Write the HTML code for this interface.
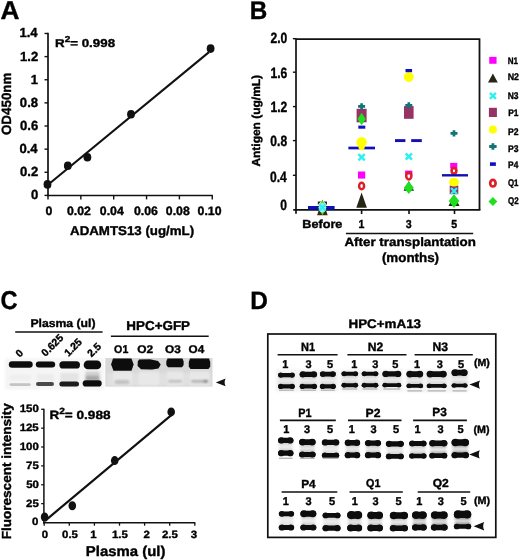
<!DOCTYPE html>
<html><head><meta charset="utf-8"><title>Figure</title><style>
html,body{margin:0;padding:0;background:#fff;width:520px;height:560px;overflow:hidden}
svg{display:block;will-change:transform;filter:blur(0.35px)}
text{font-family:"Liberation Sans",sans-serif;font-weight:bold;stroke:#000;stroke-width:0.38px;stroke-linejoin:round;text-rendering:geometricPrecision}
</style></head><body>
<svg width="520" height="560" viewBox="0 0 520 560">
<defs>
<filter id="bl" x="-20%" y="-50%" width="140%" height="200%"><feGaussianBlur stdDeviation="0.75"/></filter>
<filter id="bl2" x="-10%" y="-20%" width="120%" height="140%"><feGaussianBlur stdDeviation="1"/></filter>
<filter id="bl3" x="-10%" y="-30%" width="120%" height="160%"><feGaussianBlur stdDeviation="1.3 1.0"/></filter>
</defs>
<text transform="translate(0.61 19.31) scale(1.0128 1)" font-size="25.956" fill="#000">A</text>
<text transform="translate(249.75 19.05) scale(0.9485 1)" font-size="25.580" fill="#000">B</text>
<text transform="translate(0.46 308.59) scale(0.9162 1)" font-size="25.775" fill="#000">C</text>
<text transform="translate(250.34 308.85) scale(0.9686 1)" font-size="25.217" fill="#000">D</text>
<line x1="48.00" y1="32.79" x2="48.00" y2="196.20" stroke="#111" stroke-width="1.7"/>
<line x1="47.20" y1="195.50" x2="212.90" y2="195.50" stroke="#111" stroke-width="1.7"/>
<text transform="translate(19.47 37.45) scale(0.9920 1)" font-size="13.188" fill="#000">1.4</text>
<line x1="44.50" y1="195.40" x2="48.00" y2="195.40" stroke="#111" stroke-width="1.4"/>
<text transform="translate(30.98 199.25) scale(0.9920 1)" font-size="13.188" fill="#000">0</text>
<line x1="44.50" y1="172.27" x2="48.00" y2="172.27" stroke="#111" stroke-width="1.4"/>
<text transform="translate(19.99 176.12) scale(0.9920 1)" font-size="13.188" fill="#000">0.2</text>
<line x1="44.50" y1="149.14" x2="48.00" y2="149.14" stroke="#111" stroke-width="1.4"/>
<text transform="translate(19.47 152.99) scale(0.9920 1)" font-size="13.188" fill="#000">0.4</text>
<line x1="44.50" y1="126.01" x2="48.00" y2="126.01" stroke="#111" stroke-width="1.4"/>
<text transform="translate(19.99 129.86) scale(0.9920 1)" font-size="13.188" fill="#000">0.6</text>
<line x1="44.50" y1="102.88" x2="48.00" y2="102.88" stroke="#111" stroke-width="1.4"/>
<text transform="translate(19.86 106.73) scale(0.9920 1)" font-size="13.188" fill="#000">0.8</text>
<line x1="44.50" y1="79.75" x2="48.00" y2="79.75" stroke="#111" stroke-width="1.4"/>
<text transform="translate(30.72 83.60) scale(0.9920 1)" font-size="13.188" fill="#000">1</text>
<line x1="44.50" y1="56.62" x2="48.00" y2="56.62" stroke="#111" stroke-width="1.4"/>
<text transform="translate(19.99 60.54) scale(0.9920 1)" font-size="13.188" fill="#000">1.2</text>
<line x1="44.50" y1="33.49" x2="48.00" y2="33.49" stroke="#111" stroke-width="1.4"/>
<line x1="48.00" y1="195.50" x2="48.00" y2="199.40" stroke="#111" stroke-width="1.4"/>
<line x1="80.85" y1="195.50" x2="80.85" y2="199.40" stroke="#111" stroke-width="1.4"/>
<line x1="113.70" y1="195.50" x2="113.70" y2="199.40" stroke="#111" stroke-width="1.4"/>
<line x1="146.55" y1="195.50" x2="146.55" y2="199.40" stroke="#111" stroke-width="1.4"/>
<line x1="179.40" y1="195.50" x2="179.40" y2="199.40" stroke="#111" stroke-width="1.4"/>
<line x1="212.25" y1="195.50" x2="212.25" y2="199.40" stroke="#111" stroke-width="1.4"/>
<text transform="translate(133.96 215.43) scale(1.0154 1)" font-size="12.113" fill="#000">0.06</text>
<text transform="translate(45.42 215.43) scale(1.0154 1)" font-size="12.113" fill="#000">0</text>
<text transform="translate(66.91 215.43) scale(1.0154 1)" font-size="12.113" fill="#000">0.02</text>
<text transform="translate(99.82 215.43) scale(1.0154 1)" font-size="12.113" fill="#000">0.04</text>
<text transform="translate(165.85 215.43) scale(1.0154 1)" font-size="12.113" fill="#000">0.08</text>
<text transform="translate(197.57 215.43) scale(1.0154 1)" font-size="12.113" fill="#000">0.10</text>
<text transform="translate(70.05 234.57) scale(1.0425 1)" font-size="12.766" fill="#000">ADAMTS13 (ug/mL)</text>
<text transform="translate(11.32 135.09) rotate(-90) scale(1.0009 1)" font-size="13.380" fill="#000">OD450nm</text>
<text transform="translate(55.02 46.6) scale(1.17 1)" font-size="11.4" fill="#000">R<tspan font-size="75%" dy="-0.56em">2</tspan><tspan dy="0.42em">= 0.998</tspan></text>
<line x1="48.00" y1="184.80" x2="209.00" y2="52.10" stroke="#111" stroke-width="2.1"/>
<ellipse cx="47.5" cy="184.4" rx="3.9" ry="4.3" fill="#111"/>
<ellipse cx="67.8" cy="165.8" rx="3.9" ry="4.3" fill="#111"/>
<ellipse cx="87.4" cy="157.2" rx="3.9" ry="4.3" fill="#111"/>
<ellipse cx="131.0" cy="114.3" rx="3.9" ry="4.3" fill="#111"/>
<ellipse cx="210.6" cy="48.6" rx="3.9" ry="4.3" fill="#111"/>
<path d="M296.0,39.1H479.5V209.9" fill="none" stroke="#111" stroke-width="1.8"/>
<line x1="296.00" y1="38.20" x2="296.00" y2="213.80" stroke="#111" stroke-width="1.7"/>
<line x1="293.20" y1="209.90" x2="480.40" y2="209.90" stroke="#111" stroke-width="1.7"/>
<line x1="292.90" y1="175.30" x2="296.00" y2="175.30" stroke="#111" stroke-width="1.4"/>
<line x1="292.90" y1="140.60" x2="296.00" y2="140.60" stroke="#111" stroke-width="1.4"/>
<line x1="292.90" y1="106.60" x2="296.00" y2="106.60" stroke="#111" stroke-width="1.4"/>
<line x1="292.90" y1="72.20" x2="296.00" y2="72.20" stroke="#111" stroke-width="1.4"/>
<line x1="292.90" y1="38.70" x2="296.00" y2="38.70" stroke="#111" stroke-width="1.4"/>
<text transform="translate(270.42 78.30) scale(0.8100 1)" font-size="14.930" fill="#000">1.6</text>
<text transform="translate(280.18 210.15) scale(0.8100 1)" font-size="14.930" fill="#000">0</text>
<text transform="translate(269.94 181.75) scale(0.8100 1)" font-size="14.930" fill="#000">0.4</text>
<text transform="translate(270.30 146.15) scale(0.8100 1)" font-size="14.930" fill="#000">0.8</text>
<text transform="translate(270.42 112.33) scale(0.8100 1)" font-size="14.930" fill="#000">1.2</text>
<text transform="translate(270.42 43.05) scale(0.8100 1)" font-size="14.930" fill="#000">2.0</text>
<line x1="361.60" y1="209.90" x2="361.60" y2="214.00" stroke="#111" stroke-width="1.6"/>
<line x1="409.00" y1="209.90" x2="409.00" y2="214.00" stroke="#111" stroke-width="1.6"/>
<line x1="454.50" y1="209.90" x2="454.50" y2="214.00" stroke="#111" stroke-width="1.6"/>
<text transform="translate(302.36 227.63) scale(1.0757 1)" font-size="11.757" fill="#000">Before</text>
<text transform="translate(405.84 227.53) scale(0.9178 1)" font-size="11.549" fill="#000">3</text>
<text transform="translate(358.47 227.58) scale(0.9178 1)" font-size="11.549" fill="#000">1</text>
<text transform="translate(451.33 227.53) scale(0.9178 1)" font-size="11.549" fill="#000">5</text>
<line x1="345.90" y1="233.50" x2="473.20" y2="233.50" stroke="#111" stroke-width="1.4"/>
<text transform="translate(344.45 246.40) scale(1.1031 1)" font-size="12.128" fill="#000">After transplantation</text>
<text transform="translate(381.88 261.98) scale(1.0138 1)" font-size="13.191" fill="#000">(months)</text>
<text transform="translate(260.21 166.61) rotate(-90) scale(1.0328 1)" font-size="11.596" fill="#000">Antigen (ug/mL)</text>
<text transform="translate(507.69 63.61) scale(0.8386 1)" font-size="9.600" fill="#000">N1</text>
<text transform="translate(507.63 80.36) scale(0.9259 1)" font-size="9.600" fill="#000">N2</text>
<text transform="translate(507.76 98.64) scale(0.8814 1)" font-size="9.600" fill="#000">N3</text>
<text transform="translate(508.16 116.14) scale(0.8757 1)" font-size="9.600" fill="#000">P1</text>
<text transform="translate(508.04 134.76) scale(0.9009 1)" font-size="9.600" fill="#000">P2</text>
<text transform="translate(508.05 151.66) scale(0.8929 1)" font-size="9.600" fill="#000">P3</text>
<text transform="translate(508.07 167.76) scale(0.8696 1)" font-size="9.600" fill="#000">P4</text>
<text transform="translate(507.94 186.36) scale(0.8202 1)" font-size="9.600" fill="#000">Q1</text>
<text transform="translate(507.93 204.06) scale(0.8333 1)" font-size="9.600" fill="#000">Q2</text>
<rect x="489.25" y="56.85" width="7.30" height="6.90" fill="#ff00ff"/>
<polygon points="492.90,73.60 497.80,82.40 488.00,82.40" fill="#262616"/>
<path d="M489.90,92.90L495.90,98.90M495.90,92.90L489.90,98.90" stroke="#2ff0f0" stroke-width="2.40"/>
<rect x="488.90" y="107.80" width="8.00" height="9.20" fill="#963264"/>
<ellipse cx="492.90" cy="129.60" rx="4.00" ry="4.10" fill="#ffff00"/>
<path d="M489.20,146.50H496.60M492.90,143.20V149.80" stroke="#127474" stroke-width="2.80"/>
<rect x="489.95" y="162.30" width="5.90" height="3.60" fill="#1010c0"/>
<ellipse cx="492.90" cy="183.20" rx="2.70" ry="3.30" fill="none" stroke="#dd1f2a" stroke-width="2.70"/>
<polygon points="492.90,197.10 497.30,201.60 492.90,206.10 488.50,201.60" fill="#1ee01e"/>
<rect x="308.00" y="206.00" width="26.60" height="3.6" fill="#1010b4"/>
<polygon points="322.40,199.50 327.70,215.30 317.10,215.30" fill="#3a2a12"/>
<polygon points="317.80,201.40 321.00,201.40 317.80,205.00" fill="#3a2a12"/>
<polygon points="327.00,201.40 323.80,201.40 327.00,205.00" fill="#3a2a12"/>
<polygon points="322.40,200.00 326.60,207.60 322.40,215.20 318.20,207.60" fill="#5fd82a"/>
<ellipse cx="322.4" cy="207.8" rx="3.6" ry="4.8" fill="#9eeee8"/>
<path d="M319.25,204.25L325.55,210.55M325.55,204.25L319.25,210.55" stroke="#2ff0f0" stroke-width="2.52"/>
<polygon points="361.60,192.50 366.90,207.70 356.30,207.70" fill="#262616"/>
<ellipse cx="361.6" cy="186.0" rx="2.5" ry="3.25" fill="none" stroke="#dd1f2a" stroke-width="2.5"/>
<rect x="358.0" y="171.5" width="7.2" height="7.1" fill="#ff00ff"/>
<path d="M358.45,154.05L364.75,160.35M364.75,154.05L358.45,160.35" stroke="#2ff0f0" stroke-width="2.52"/>
<rect x="348.40" y="146.65" width="26.60" height="2.7" fill="#1010b4"/>
<circle cx="361.6" cy="142.3" r="5.2" fill="#ffff00"/>
<ellipse cx="361.6" cy="146.8" rx="3.2" ry="3.4" fill="#ffff00"/>
<rect x="356.60" y="108.8" width="10" height="13.5" fill="#963264"/>
<polygon points="361.60,112.80 365.70,119.00 361.60,125.20 357.50,119.00" fill="#1ee01e"/>
<rect x="358.3" y="125.6" width="7.0" height="3.1" fill="#1010c0"/>
<path d="M358.09,106.30H365.12M361.60,103.16V109.44" stroke="#127474" stroke-width="2.66"/>
<polygon points="408.80,181.00 414.00,190.80 403.60,190.80" fill="#262616"/>
<polygon points="408.80,181.60 413.80,187.80 408.80,194.00 403.80,187.80" fill="#1ee01e"/>
<rect x="405.1" y="170.6" width="7.3" height="4" fill="#ff00ff"/>
<ellipse cx="408.8" cy="175.8" rx="2.6" ry="3.6" fill="none" stroke="#dd1f2a" stroke-width="2.5"/>
<path d="M405.65,153.35L411.95,159.65M411.95,153.35L405.65,159.65" stroke="#2ff0f0" stroke-width="2.52"/>
<rect x="395.00" y="139.15" width="10.40" height="2.9" fill="#1010b4"/>
<rect x="411.20" y="139.15" width="10.60" height="2.9" fill="#1010b4"/>
<rect x="404.00" y="106.1" width="9.6" height="12.7" fill="#963264"/>
<path d="M405.29,105.40H412.31M408.80,102.27V108.54" stroke="#127474" stroke-width="2.66"/>
<circle cx="408.8" cy="77.0" r="4.9" fill="#ffff00"/>
<rect x="405.5" y="69.0" width="6.6" height="3.2" fill="#1010c0"/>
<polygon points="454.00,195.00 459.50,205.90 448.50,205.90" fill="#262616"/>
<rect x="449.7" y="185.5" width="8.6" height="8.7" fill="#963264"/>
<path d="M451.00,188.00L457.00,194.00M457.00,188.00L451.00,194.00" stroke="#2ff0f0" stroke-width="2.40"/>
<polygon points="454.00,194.20 459.30,201.10 454.00,208.00 448.70,201.10" fill="#1ee01e"/>
<rect x="450.2" y="162.9" width="7.1" height="5.5" fill="#ff00ff"/>
<ellipse cx="454.0" cy="170.8" rx="2.4" ry="2.8" fill="none" stroke="#dd1f2a" stroke-width="2.6"/>
<rect x="442.00" y="174.10" width="26.00" height="2.4" fill="#1010b4"/>
<ellipse cx="454.0" cy="182.2" rx="5.0" ry="4.4" fill="#ffff00"/>
<path d="M450.49,133.40H457.51M454.00,130.27V136.53" stroke="#127474" stroke-width="2.66"/>
<text transform="translate(30.40 326.76) scale(1.0720 1)" font-size="11.383" fill="#000">Plasma (ul)</text>
<line x1="15.20" y1="332.00" x2="102.60" y2="332.00" stroke="#111" stroke-width="1.4"/>
<text transform="translate(126.31 330.22) scale(1.0487 1)" font-size="12.817" fill="#000">HPC+GFP</text>
<line x1="110.90" y1="336.20" x2="208.70" y2="336.20" stroke="#111" stroke-width="1.4"/>
<text transform="translate(114.12 353.14) scale(0.9434 1)" font-size="11.268" fill="#000">O1</text>
<text transform="translate(137.17 353.14) scale(1.0579 1)" font-size="11.268" fill="#000">O2</text>
<text transform="translate(165.08 352.64) scale(1.0495 1)" font-size="11.268" fill="#000">O3</text>
<text transform="translate(188.58 352.64) scale(1.0389 1)" font-size="11.268" fill="#000">O4</text>
<text x="19.35" y="356.65000000000003" font-size="10.4" text-anchor="middle" transform="rotate(-45 19.35 353.05)" fill="#000">0</text>
<text x="52.25" y="348.75" font-size="10.4" text-anchor="middle" transform="rotate(-45 52.25 345.15)" fill="#000">0.625</text>
<text x="73.0" y="350.85" font-size="10.4" text-anchor="middle" transform="rotate(-45 73.0 347.25)" fill="#000">1.25</text>
<text x="94.2" y="353.45000000000005" font-size="10.4" text-anchor="middle" transform="rotate(-45 94.2 349.85)" fill="#000">2.5</text>
<rect x="5" y="358.5" width="99" height="31" fill="#f5f5f5" filter="url(#bl2)"/>
<g filter="url(#bl3)">
<rect x="10" y="374.5" width="21" height="6" fill="#efefef"/>
<rect x="37" y="374" width="17" height="7" fill="#ececec"/>
<rect x="60.5" y="373" width="18" height="8.5" fill="#e4e4e4"/>
<rect x="85.5" y="371.5" width="14" height="4" fill="#d0d0d0"/>
<rect x="85.5" y="375.5" width="14" height="5.5" fill="#a8a8a8"/>
</g>
<g filter="url(#bl)">
<rect x="8.8" y="361.3" width="23.9" height="6.5" rx="3.25" fill="#0b0b0b"/>
<rect x="35.8" y="361.5" width="19.4" height="6.1" rx="3.05" fill="#0b0b0b"/>
<rect x="59.4" y="361.3" width="20.6" height="7.3" rx="3.65" fill="#0b0b0b"/>
<rect x="83.7" y="360.6" width="17.5" height="8.6" rx="4.30" fill="#0b0b0b"/>
<rect x="9.5" y="383.2" width="21.2" height="2.8" rx="1.40" fill="#c4c4c4"/>
<rect x="36.0" y="381.9" width="18.0" height="4.1" rx="2.05" fill="#4a4a4a"/>
<rect x="59.4" y="381.4" width="19.6" height="5.0" rx="2.50" fill="#1c1c1c"/>
<rect x="82.7" y="380.3" width="19.0" height="6.2" rx="3.10" fill="#0b0b0b"/>
</g>
<rect x="105.3" y="358" width="107.2" height="28.6" fill="#d8d8d8"/>
<g filter="url(#bl3)">
<rect x="107" y="373" width="104" height="12.5" fill="#e0e0e0"/>
<rect x="113" y="371.5" width="19" height="14" fill="#e8e8e8"/>
<rect x="139" y="371.5" width="20" height="14" fill="#e8e8e8"/>
<rect x="167" y="371.5" width="16" height="14" fill="#e8e8e8"/>
<rect x="190" y="371.5" width="19" height="14" fill="#e8e8e8"/>
</g>
<g filter="url(#bl)">
<polygon points="113,358.6 131.5,358.6 133.6,364.6 131.5,370.7 113.5,370.7 111.1,364.6" fill="#0b0b0b"/>
<polygon points="139,359.5 150,359.2 158,361 160.7,364.5 158.5,368.5 152,369.6 141,369.2 137.6,366 137.8,361.5" fill="#0b0b0b"/>
<polygon points="167.5,358.6 182.5,358.6 183.6,361.5 183.6,365 182,367.3 168,367.3 166.3,365 166.3,361.5" fill="#0b0b0b"/>
<polygon points="190,358.6 209,358.6 210.2,362 210.2,366.5 208.5,369 190.5,369 188.8,366.5 188.8,362" fill="#0b0b0b"/>
</g>
<g filter="url(#bl3)">
<rect x="114.5" y="380" width="15" height="4.2" rx="2" fill="#c2c2c2"/>
<rect x="168" y="380" width="14" height="2.6" rx="1.3" fill="#bcbcbc"/>
<rect x="191" y="380" width="17.4" height="2.8" rx="1.4" fill="#b4b4b4"/>
<ellipse cx="205.6" cy="381.3" rx="2" ry="1.3" fill="#777"/>
</g>
<path d="M215.80,382.40 L225.60,378.55 Q223.64,382.40 225.60,386.25Z" fill="#111"/>
<line x1="43.90" y1="408.68" x2="43.90" y2="523.40" stroke="#111" stroke-width="1.5"/>
<line x1="43.20" y1="522.70" x2="195.30" y2="522.70" stroke="#111" stroke-width="1.5"/>
<line x1="41.20" y1="503.63" x2="43.90" y2="503.63" stroke="#111" stroke-width="1.3"/>
<line x1="41.20" y1="484.76" x2="43.90" y2="484.76" stroke="#111" stroke-width="1.3"/>
<line x1="41.20" y1="465.89" x2="43.90" y2="465.89" stroke="#111" stroke-width="1.3"/>
<line x1="41.20" y1="447.02" x2="43.90" y2="447.02" stroke="#111" stroke-width="1.3"/>
<line x1="41.20" y1="428.15" x2="43.90" y2="428.15" stroke="#111" stroke-width="1.3"/>
<line x1="41.20" y1="409.28" x2="43.90" y2="409.28" stroke="#111" stroke-width="1.3"/>
<text transform="translate(19.76 449.72) scale(1.0767 1)" font-size="10.648" fill="#000">100</text>
<text transform="translate(31.90 525.37) scale(1.0767 1)" font-size="10.648" fill="#000">0</text>
<text transform="translate(26.07 506.50) scale(1.0767 1)" font-size="10.648" fill="#000">25</text>
<text transform="translate(26.18 487.63) scale(1.0767 1)" font-size="10.648" fill="#000">50</text>
<text transform="translate(26.07 468.71) scale(1.0767 1)" font-size="10.648" fill="#000">75</text>
<text transform="translate(19.65 431.02) scale(1.0767 1)" font-size="10.648" fill="#000">125</text>
<text transform="translate(19.76 412.15) scale(1.0767 1)" font-size="10.648" fill="#000">150</text>
<line x1="44.20" y1="522.70" x2="44.20" y2="525.70" stroke="#111" stroke-width="1.3"/>
<line x1="69.30" y1="522.70" x2="69.30" y2="525.70" stroke="#111" stroke-width="1.3"/>
<line x1="94.40" y1="522.70" x2="94.40" y2="525.70" stroke="#111" stroke-width="1.3"/>
<line x1="119.50" y1="522.70" x2="119.50" y2="525.70" stroke="#111" stroke-width="1.3"/>
<line x1="144.60" y1="522.70" x2="144.60" y2="525.70" stroke="#111" stroke-width="1.3"/>
<line x1="169.70" y1="522.70" x2="169.70" y2="525.70" stroke="#111" stroke-width="1.3"/>
<line x1="194.80" y1="522.70" x2="194.80" y2="525.70" stroke="#111" stroke-width="1.3"/>
<text transform="translate(162.01 538.17) scale(1.0733 1)" font-size="10.648" fill="#000">2.5</text>
<text transform="translate(41.86 538.17) scale(1.0733 1)" font-size="10.648" fill="#000">0</text>
<text transform="translate(62.10 538.17) scale(1.0733 1)" font-size="10.648" fill="#000">0.5</text>
<text transform="translate(90.23 538.17) scale(1.0733 1)" font-size="10.648" fill="#000">1</text>
<text transform="translate(111.99 538.12) scale(1.0733 1)" font-size="10.648" fill="#000">1.5</text>
<text transform="translate(143.46 538.23) scale(1.0733 1)" font-size="10.648" fill="#000">2</text>
<text transform="translate(190.71 538.17) scale(1.0733 1)" font-size="10.648" fill="#000">3</text>
<text transform="translate(85.80 555.52) scale(1.0521 1)" font-size="14.202" fill="#000">Plasma (ul)</text>
<text transform="translate(10.90 539.30) rotate(-90) scale(1.0328 1)" font-size="13.117" fill="#000">Fluorescent intensity</text>
<text transform="translate(49.40 419.1) scale(1.14 1)" font-size="11.9" fill="#000">R<tspan font-size="75%" dy="-0.56em">2</tspan><tspan dy="0.42em">= 0.988</tspan></text>
<line x1="45.00" y1="520.80" x2="171.30" y2="415.20" stroke="#111" stroke-width="2.2"/>
<ellipse cx="44.6" cy="517.0" rx="3.8" ry="4.5" fill="#111"/>
<ellipse cx="72.3" cy="505.8" rx="3.8" ry="4.5" fill="#111"/>
<ellipse cx="114.7" cy="460.6" rx="3.8" ry="4.5" fill="#111"/>
<ellipse cx="171.2" cy="411.9" rx="3.8" ry="4.5" fill="#111"/>
<text transform="translate(348.51 327.62) scale(1.0697 1)" font-size="12.535" fill="#000">HPC+mA13</text>
<rect x="267.8" y="334.0" width="228.0" height="203.4" fill="none" stroke="#111" stroke-width="1.7"/>
<text transform="translate(305.43 368.14) scale(0.9762 1)" font-size="11.268" fill="#000">3</text>
<text transform="translate(300.98 350.55) scale(0.9050 1)" font-size="12.174" fill="#000">N1</text>
<text transform="translate(367.80 350.75) scale(0.9995 1)" font-size="12.143" fill="#000">N2</text>
<text transform="translate(432.50 350.63) scale(0.9848 1)" font-size="12.324" fill="#000">N3</text>
<line x1="277.60" y1="354.80" x2="337.60" y2="354.80" stroke="#111" stroke-width="1.6"/>
<line x1="347.40" y1="354.80" x2="406.50" y2="354.80" stroke="#111" stroke-width="1.6"/>
<line x1="414.60" y1="354.80" x2="472.80" y2="354.80" stroke="#111" stroke-width="1.6"/>
<text transform="translate(282.36 368.14) scale(0.9762 1)" font-size="11.268" fill="#000">1</text>
<text transform="translate(327.02 368.08) scale(0.9762 1)" font-size="11.268" fill="#000">5</text>
<text transform="translate(351.36 368.14) scale(0.9762 1)" font-size="11.268" fill="#000">1</text>
<text transform="translate(372.13 368.14) scale(0.9762 1)" font-size="11.268" fill="#000">3</text>
<text transform="translate(392.32 368.08) scale(0.9762 1)" font-size="11.268" fill="#000">5</text>
<text transform="translate(413.95 368.14) scale(0.9762 1)" font-size="11.268" fill="#000">1</text>
<text transform="translate(436.73 368.14) scale(0.9762 1)" font-size="11.268" fill="#000">3</text>
<text transform="translate(458.12 368.08) scale(0.9762 1)" font-size="11.268" fill="#000">5</text>
<text transform="translate(473.92 365.98) scale(1.0314 1)" font-size="10.319" fill="#000">(M)</text>
<text transform="translate(298.29 416.55) scale(0.8941 1)" font-size="12.174" fill="#000">P1</text>
<text transform="translate(365.49 416.55) scale(1.0333 1)" font-size="11.857" fill="#000">P2</text>
<text transform="translate(432.22 416.43) scale(1.0037 1)" font-size="11.831" fill="#000">P3</text>
<line x1="279.90" y1="420.40" x2="335.80" y2="420.40" stroke="#111" stroke-width="1.6"/>
<line x1="348.00" y1="420.40" x2="401.50" y2="420.40" stroke="#111" stroke-width="1.6"/>
<line x1="413.10" y1="420.40" x2="466.90" y2="420.40" stroke="#111" stroke-width="1.6"/>
<text transform="translate(283.25 432.69) scale(0.9762 1)" font-size="11.268" fill="#000">1</text>
<text transform="translate(303.93 432.69) scale(0.9762 1)" font-size="11.268" fill="#000">3</text>
<text transform="translate(326.92 432.63) scale(0.9762 1)" font-size="11.268" fill="#000">5</text>
<text transform="translate(348.75 432.69) scale(0.9762 1)" font-size="11.268" fill="#000">1</text>
<text transform="translate(370.53 432.69) scale(0.9762 1)" font-size="11.268" fill="#000">3</text>
<text transform="translate(393.12 432.63) scale(0.9762 1)" font-size="11.268" fill="#000">5</text>
<text transform="translate(414.45 432.69) scale(0.9762 1)" font-size="11.268" fill="#000">1</text>
<text transform="translate(437.43 432.69) scale(0.9762 1)" font-size="11.268" fill="#000">3</text>
<text transform="translate(457.52 432.63) scale(0.9762 1)" font-size="11.268" fill="#000">5</text>
<text transform="translate(473.41 432.54) scale(1.0173 1)" font-size="10.532" fill="#000">(M)</text>
<text transform="translate(301.22 487.55) scale(1.0074 1)" font-size="11.739" fill="#000">P4</text>
<text transform="translate(366.12 487.44) scale(0.9456 1)" font-size="11.408" fill="#000">Q1</text>
<text transform="translate(432.67 487.43) scale(1.0333 1)" font-size="11.690" fill="#000">Q2</text>
<line x1="281.60" y1="492.00" x2="337.30" y2="492.00" stroke="#111" stroke-width="1.6"/>
<line x1="349.50" y1="492.00" x2="402.80" y2="492.00" stroke="#111" stroke-width="1.6"/>
<line x1="417.70" y1="492.00" x2="470.20" y2="492.00" stroke="#111" stroke-width="1.6"/>
<text transform="translate(282.86 504.69) scale(0.9762 1)" font-size="11.268" fill="#000">1</text>
<text transform="translate(305.53 504.69) scale(0.9762 1)" font-size="11.268" fill="#000">3</text>
<text transform="translate(329.12 504.63) scale(0.9762 1)" font-size="11.268" fill="#000">5</text>
<text transform="translate(351.65 504.69) scale(0.9762 1)" font-size="11.268" fill="#000">1</text>
<text transform="translate(372.43 504.69) scale(0.9762 1)" font-size="11.268" fill="#000">3</text>
<text transform="translate(395.42 504.63) scale(0.9762 1)" font-size="11.268" fill="#000">5</text>
<text transform="translate(416.36 504.69) scale(0.9762 1)" font-size="11.268" fill="#000">1</text>
<text transform="translate(437.83 504.69) scale(0.9762 1)" font-size="11.268" fill="#000">3</text>
<text transform="translate(460.42 504.63) scale(0.9762 1)" font-size="11.268" fill="#000">5</text>
<text transform="translate(473.91 504.14) scale(1.0241 1)" font-size="10.532" fill="#000">(M)</text>
<rect x="276" y="369.5" width="62.5" height="22.0" fill="#f2f2f2" filter="url(#bl2)"/>
<g filter="url(#bl3)">
<rect x="279.0" y="375.1" width="14.9" height="11.3" fill="#ececec"/>
<rect x="279.0" y="375.1" width="14.9" height="4.0" fill="#d8d8d8"/>
<rect x="279.0" y="382.2" width="14.9" height="4.2" fill="#d8d8d8"/>
<rect x="300.6" y="374.4" width="15.5" height="12.0" fill="#ececec"/>
<rect x="300.6" y="374.4" width="15.5" height="4.5" fill="#d4d4d4"/>
<rect x="300.6" y="382.2" width="15.5" height="4.2" fill="#d4d4d4"/>
<rect x="320.8" y="374.1" width="14.1" height="12.3" fill="#ececec"/>
<rect x="320.8" y="374.1" width="14.1" height="4.3" fill="#d8d8d8"/>
<rect x="320.8" y="382.2" width="14.1" height="4.2" fill="#d8d8d8"/>
</g>
<g filter="url(#bl)">
<rect x="278.0" y="373.05" width="16.9" height="4.10" rx="2.05" fill="#0b0b0b"/>
<ellipse cx="280.75" cy="375.10" rx="2.55" ry="2.55" fill="#0b0b0b"/>
<ellipse cx="292.15" cy="375.10" rx="2.55" ry="2.55" fill="#0b0b0b"/>
<rect x="278.0" y="384.35" width="16.9" height="4.10" rx="2.05" fill="#0b0b0b"/>
<ellipse cx="280.75" cy="386.40" rx="2.55" ry="2.55" fill="#0b0b0b"/>
<ellipse cx="292.15" cy="386.40" rx="2.55" ry="2.55" fill="#0b0b0b"/>
<rect x="279.0" y="389.50" width="14.9" height="1.4" fill="#b8b8b8"/>
<rect x="299.6" y="371.85" width="17.5" height="5.10" rx="2.55" fill="#0b0b0b"/>
<ellipse cx="302.85" cy="374.40" rx="3.05" ry="3.05" fill="#0b0b0b"/>
<ellipse cx="313.85" cy="374.40" rx="3.05" ry="3.05" fill="#0b0b0b"/>
<rect x="299.6" y="384.35" width="17.5" height="4.10" rx="2.05" fill="#0b0b0b"/>
<ellipse cx="302.35" cy="386.40" rx="2.55" ry="2.55" fill="#0b0b0b"/>
<ellipse cx="314.35" cy="386.40" rx="2.55" ry="2.55" fill="#0b0b0b"/>
<rect x="300.6" y="389.50" width="15.5" height="1.4" fill="#b8b8b8"/>
<rect x="319.8" y="371.75" width="16.1" height="4.70" rx="2.35" fill="#0b0b0b"/>
<ellipse cx="322.85" cy="374.10" rx="2.85" ry="2.85" fill="#0b0b0b"/>
<ellipse cx="332.85" cy="374.10" rx="2.85" ry="2.85" fill="#0b0b0b"/>
<rect x="319.8" y="384.35" width="16.1" height="4.10" rx="2.05" fill="#0b0b0b"/>
<ellipse cx="322.55" cy="386.40" rx="2.55" ry="2.55" fill="#0b0b0b"/>
<ellipse cx="333.15" cy="386.40" rx="2.55" ry="2.55" fill="#0b0b0b"/>
<rect x="320.8" y="389.50" width="14.1" height="1.4" fill="#b8b8b8"/>
</g>
<rect x="340.5" y="369.5" width="62.5" height="22.0" fill="#f2f2f2" filter="url(#bl2)"/>
<g filter="url(#bl3)">
<rect x="342.4" y="373.8" width="14.8" height="11.4" fill="#ececec"/>
<rect x="342.4" y="373.8" width="14.8" height="4.0" fill="#d4d4d4"/>
<rect x="342.4" y="381.1" width="14.8" height="4.1" fill="#d4d4d4"/>
<rect x="362.6" y="373.8" width="14.8" height="11.4" fill="#ececec"/>
<rect x="362.6" y="373.8" width="14.8" height="4.0" fill="#d8d8d8"/>
<rect x="362.6" y="381.1" width="14.8" height="4.1" fill="#d8d8d8"/>
<rect x="383.4" y="373.9" width="16.9" height="11.3" fill="#ececec"/>
<rect x="383.4" y="373.9" width="16.9" height="4.6" fill="#d8d8d8"/>
<rect x="383.4" y="381.2" width="16.9" height="4.0" fill="#d8d8d8"/>
</g>
<g filter="url(#bl)">
<rect x="341.4" y="371.80" width="16.8" height="4.00" rx="2.00" fill="#0b0b0b"/>
<ellipse cx="344.10" cy="373.80" rx="2.50" ry="2.50" fill="#0b0b0b"/>
<ellipse cx="355.50" cy="373.80" rx="2.50" ry="2.50" fill="#0b0b0b"/>
<rect x="341.4" y="383.25" width="16.8" height="3.90" rx="1.95" fill="#0b0b0b"/>
<ellipse cx="344.05" cy="385.20" rx="2.45" ry="2.45" fill="#0b0b0b"/>
<ellipse cx="355.55" cy="385.20" rx="2.45" ry="2.45" fill="#0b0b0b"/>
<rect x="342.4" y="388.30" width="14.8" height="1.4" fill="#b8b8b8"/>
<rect x="361.6" y="371.80" width="16.8" height="4.00" rx="2.00" fill="#0b0b0b"/>
<ellipse cx="364.30" cy="373.80" rx="2.50" ry="2.50" fill="#0b0b0b"/>
<ellipse cx="375.70" cy="373.80" rx="2.50" ry="2.50" fill="#0b0b0b"/>
<rect x="361.6" y="383.25" width="16.8" height="3.90" rx="1.95" fill="#0b0b0b"/>
<ellipse cx="364.25" cy="385.20" rx="2.45" ry="2.45" fill="#0b0b0b"/>
<ellipse cx="375.75" cy="385.20" rx="2.45" ry="2.45" fill="#0b0b0b"/>
<rect x="362.6" y="388.30" width="14.8" height="1.4" fill="#b8b8b8"/>
<rect x="382.4" y="371.25" width="18.9" height="5.30" rx="2.65" fill="#0b0b0b"/>
<ellipse cx="385.75" cy="373.90" rx="3.15" ry="3.15" fill="#0b0b0b"/>
<ellipse cx="397.95" cy="373.90" rx="3.15" ry="3.15" fill="#0b0b0b"/>
<rect x="382.4" y="383.35" width="18.9" height="3.70" rx="1.85" fill="#0b0b0b"/>
<ellipse cx="384.95" cy="385.20" rx="2.35" ry="2.35" fill="#0b0b0b"/>
<ellipse cx="398.75" cy="385.20" rx="2.35" ry="2.35" fill="#0b0b0b"/>
<rect x="383.4" y="388.30" width="16.9" height="1.4" fill="#b8b8b8"/>
</g>
<rect x="405.5" y="369.5" width="63.5" height="22.5" fill="#f2f2f2" filter="url(#bl2)"/>
<g filter="url(#bl3)">
<rect x="407.4" y="374.1" width="14.8" height="11.8" fill="#ececec"/>
<rect x="407.4" y="374.1" width="14.8" height="4.8" fill="#d2d2d2"/>
<rect x="407.4" y="381.8" width="14.8" height="4.1" fill="#d2d2d2"/>
<rect x="427.6" y="374.1" width="18.1" height="11.8" fill="#ececec"/>
<rect x="427.6" y="374.1" width="18.1" height="4.8" fill="#d8d8d8"/>
<rect x="427.6" y="381.8" width="18.1" height="4.1" fill="#d8d8d8"/>
<rect x="452.5" y="372.7" width="14.1" height="12.8" fill="#ececec"/>
<rect x="452.5" y="372.7" width="14.1" height="4.8" fill="#d4d4d4"/>
<rect x="452.5" y="381.5" width="14.1" height="4.0" fill="#d4d4d4"/>
</g>
<g filter="url(#bl)">
<rect x="406.4" y="371.25" width="16.8" height="5.70" rx="2.85" fill="#0b0b0b"/>
<ellipse cx="409.95" cy="374.10" rx="3.35" ry="3.35" fill="#0b0b0b"/>
<ellipse cx="419.65" cy="374.10" rx="3.35" ry="3.35" fill="#0b0b0b"/>
<rect x="406.4" y="383.95" width="16.8" height="3.90" rx="1.95" fill="#0b0b0b"/>
<ellipse cx="409.05" cy="385.90" rx="2.45" ry="2.45" fill="#0b0b0b"/>
<ellipse cx="420.55" cy="385.90" rx="2.45" ry="2.45" fill="#0b0b0b"/>
<rect x="407.4" y="390.20" width="14.8" height="1.4" fill="#b8b8b8"/>
<rect x="426.6" y="371.25" width="20.1" height="5.70" rx="2.85" fill="#0b0b0b"/>
<ellipse cx="430.15" cy="374.10" rx="3.35" ry="3.35" fill="#0b0b0b"/>
<ellipse cx="443.15" cy="374.10" rx="3.35" ry="3.35" fill="#0b0b0b"/>
<rect x="426.6" y="383.95" width="20.1" height="3.90" rx="1.95" fill="#0b0b0b"/>
<ellipse cx="429.25" cy="385.90" rx="2.45" ry="2.45" fill="#0b0b0b"/>
<ellipse cx="444.05" cy="385.90" rx="2.45" ry="2.45" fill="#0b0b0b"/>
<rect x="427.6" y="390.20" width="18.1" height="1.4" fill="#b8b8b8"/>
<rect x="451.5" y="369.85" width="16.1" height="5.70" rx="2.85" fill="#0b0b0b"/>
<ellipse cx="455.05" cy="372.70" rx="3.35" ry="3.35" fill="#0b0b0b"/>
<ellipse cx="464.05" cy="372.70" rx="3.35" ry="3.35" fill="#0b0b0b"/>
<rect x="451.5" y="383.65" width="16.1" height="3.70" rx="1.85" fill="#0b0b0b"/>
<ellipse cx="454.05" cy="385.50" rx="2.35" ry="2.35" fill="#0b0b0b"/>
<ellipse cx="465.05" cy="385.50" rx="2.35" ry="2.35" fill="#0b0b0b"/>
<rect x="452.5" y="390.20" width="14.1" height="1.4" fill="#b8b8b8"/>
</g>
<g filter="url(#bl3)">
<rect x="279.0" y="440.4" width="13.5" height="12.8" fill="#ececec"/>
<rect x="279.0" y="440.4" width="13.5" height="4.6" fill="#d4d4d4"/>
<rect x="279.0" y="448.4" width="13.5" height="4.8" fill="#d4d4d4"/>
<rect x="300.0" y="442.1" width="14.7" height="12.5" fill="#ececec"/>
<rect x="300.0" y="442.1" width="14.7" height="4.8" fill="#cccccc"/>
<rect x="300.0" y="449.8" width="14.7" height="4.8" fill="#cccccc"/>
<rect x="322.8" y="442.4" width="15.5" height="13.1" fill="#ececec"/>
<rect x="322.8" y="442.4" width="15.5" height="4.6" fill="#dedede"/>
<rect x="322.8" y="451.0" width="15.5" height="4.5" fill="#dedede"/>
</g>
<g filter="url(#bl)">
<rect x="278.0" y="437.75" width="15.5" height="5.30" rx="2.65" fill="#0b0b0b"/>
<ellipse cx="281.35" cy="440.40" rx="3.15" ry="3.15" fill="#0b0b0b"/>
<ellipse cx="290.15" cy="440.40" rx="3.15" ry="3.15" fill="#0b0b0b"/>
<rect x="278.0" y="450.60" width="15.5" height="5.20" rx="2.60" fill="#0b0b0b"/>
<ellipse cx="281.30" cy="453.20" rx="3.10" ry="3.10" fill="#0b0b0b"/>
<ellipse cx="290.20" cy="453.20" rx="3.10" ry="3.10" fill="#0b0b0b"/>
<rect x="279.0" y="457.60" width="13.5" height="1.4" fill="#b8b8b8"/>
<rect x="299.0" y="439.25" width="16.7" height="5.70" rx="2.85" fill="#0b0b0b"/>
<ellipse cx="302.55" cy="442.10" rx="3.35" ry="3.35" fill="#0b0b0b"/>
<ellipse cx="312.15" cy="442.10" rx="3.35" ry="3.35" fill="#0b0b0b"/>
<rect x="299.0" y="451.95" width="16.7" height="5.30" rx="2.65" fill="#0b0b0b"/>
<ellipse cx="302.35" cy="454.60" rx="3.15" ry="3.15" fill="#0b0b0b"/>
<ellipse cx="312.35" cy="454.60" rx="3.15" ry="3.15" fill="#0b0b0b"/>
<rect x="300.0" y="457.60" width="14.7" height="1.4" fill="#b8b8b8"/>
<rect x="321.8" y="439.75" width="17.5" height="5.30" rx="2.65" fill="#0b0b0b"/>
<ellipse cx="325.15" cy="442.40" rx="3.15" ry="3.15" fill="#0b0b0b"/>
<ellipse cx="335.95" cy="442.40" rx="3.15" ry="3.15" fill="#0b0b0b"/>
<rect x="321.8" y="453.10" width="17.5" height="4.80" rx="2.40" fill="#0b0b0b"/>
<ellipse cx="324.90" cy="455.50" rx="2.90" ry="2.90" fill="#0b0b0b"/>
<ellipse cx="336.20" cy="455.50" rx="2.90" ry="2.90" fill="#0b0b0b"/>
<rect x="322.8" y="457.60" width="15.5" height="1.4" fill="#b8b8b8"/>
</g>
<g filter="url(#bl3)">
<rect x="345.7" y="442.7" width="13.5" height="12.5" fill="#ececec"/>
<rect x="345.7" y="442.7" width="13.5" height="4.7" fill="#d0d0d0"/>
<rect x="345.7" y="450.4" width="13.5" height="4.8" fill="#d0d0d0"/>
<rect x="365.9" y="443.1" width="14.2" height="12.1" fill="#ececec"/>
<rect x="365.9" y="443.1" width="14.2" height="4.6" fill="#cccccc"/>
<rect x="365.9" y="450.4" width="14.2" height="4.8" fill="#cccccc"/>
<rect x="386.8" y="443.8" width="16.1" height="12.6" fill="#ececec"/>
<rect x="386.8" y="443.8" width="16.1" height="4.6" fill="#d8d8d8"/>
<rect x="386.8" y="451.8" width="16.1" height="4.6" fill="#d8d8d8"/>
</g>
<g filter="url(#bl)">
<rect x="344.7" y="440.00" width="15.5" height="5.40" rx="2.70" fill="#0b0b0b"/>
<ellipse cx="348.10" cy="442.70" rx="3.20" ry="3.20" fill="#0b0b0b"/>
<ellipse cx="356.80" cy="442.70" rx="3.20" ry="3.20" fill="#0b0b0b"/>
<rect x="344.7" y="452.60" width="15.5" height="5.20" rx="2.60" fill="#0b0b0b"/>
<ellipse cx="348.00" cy="455.20" rx="3.10" ry="3.10" fill="#0b0b0b"/>
<ellipse cx="356.90" cy="455.20" rx="3.10" ry="3.10" fill="#0b0b0b"/>
<rect x="364.9" y="440.45" width="16.2" height="5.30" rx="2.65" fill="#0b0b0b"/>
<ellipse cx="368.25" cy="443.10" rx="3.15" ry="3.15" fill="#0b0b0b"/>
<ellipse cx="377.75" cy="443.10" rx="3.15" ry="3.15" fill="#0b0b0b"/>
<rect x="364.9" y="452.60" width="16.2" height="5.20" rx="2.60" fill="#0b0b0b"/>
<ellipse cx="368.20" cy="455.20" rx="3.10" ry="3.10" fill="#0b0b0b"/>
<ellipse cx="377.80" cy="455.20" rx="3.10" ry="3.10" fill="#0b0b0b"/>
<rect x="385.8" y="441.20" width="18.1" height="5.20" rx="2.60" fill="#0b0b0b"/>
<ellipse cx="389.10" cy="443.80" rx="3.10" ry="3.10" fill="#0b0b0b"/>
<ellipse cx="400.60" cy="443.80" rx="3.10" ry="3.10" fill="#0b0b0b"/>
<rect x="385.8" y="453.95" width="18.1" height="4.90" rx="2.45" fill="#0b0b0b"/>
<ellipse cx="388.95" cy="456.40" rx="2.95" ry="2.95" fill="#0b0b0b"/>
<ellipse cx="400.75" cy="456.40" rx="2.95" ry="2.95" fill="#0b0b0b"/>
</g>
<g filter="url(#bl3)">
<rect x="410.1" y="443.4" width="15.5" height="12.6" fill="#ececec"/>
<rect x="410.1" y="443.4" width="15.5" height="4.5" fill="#cfcfcf"/>
<rect x="410.1" y="451.7" width="15.5" height="4.3" fill="#cfcfcf"/>
<rect x="430.2" y="443.2" width="16.2" height="12.5" fill="#ececec"/>
<rect x="430.2" y="443.2" width="16.2" height="4.7" fill="#b8b8b8"/>
<rect x="430.2" y="451.2" width="16.2" height="4.5" fill="#b8b8b8"/>
<rect x="452.5" y="442.5" width="15.5" height="12.7" fill="#ececec"/>
<rect x="452.5" y="442.5" width="15.5" height="5.2" fill="#b0b0b0"/>
<rect x="452.5" y="450.4" width="15.5" height="4.8" fill="#b0b0b0"/>
</g>
<g filter="url(#bl)">
<rect x="409.1" y="440.90" width="17.5" height="5.00" rx="2.50" fill="#0b0b0b"/>
<ellipse cx="412.30" cy="443.40" rx="3.00" ry="3.00" fill="#0b0b0b"/>
<ellipse cx="423.40" cy="443.40" rx="3.00" ry="3.00" fill="#0b0b0b"/>
<rect x="409.1" y="453.85" width="17.5" height="4.30" rx="2.15" fill="#0b0b0b"/>
<ellipse cx="411.95" cy="456.00" rx="2.65" ry="2.65" fill="#0b0b0b"/>
<ellipse cx="423.75" cy="456.00" rx="2.65" ry="2.65" fill="#0b0b0b"/>
<rect x="429.2" y="440.45" width="18.2" height="5.50" rx="2.75" fill="#0b0b0b"/>
<ellipse cx="432.65" cy="443.20" rx="3.25" ry="3.25" fill="#0b0b0b"/>
<ellipse cx="443.95" cy="443.20" rx="3.25" ry="3.25" fill="#0b0b0b"/>
<rect x="429.2" y="453.30" width="18.2" height="4.80" rx="2.40" fill="#0b0b0b"/>
<ellipse cx="432.30" cy="455.70" rx="2.90" ry="2.90" fill="#0b0b0b"/>
<ellipse cx="444.30" cy="455.70" rx="2.90" ry="2.90" fill="#0b0b0b"/>
<rect x="451.5" y="439.25" width="17.5" height="6.50" rx="3.25" fill="#0b0b0b"/>
<ellipse cx="455.45" cy="442.50" rx="3.75" ry="3.75" fill="#0b0b0b"/>
<ellipse cx="465.05" cy="442.50" rx="3.75" ry="3.75" fill="#0b0b0b"/>
<rect x="451.5" y="452.60" width="17.5" height="5.20" rx="2.60" fill="#0b0b0b"/>
<ellipse cx="454.80" cy="455.20" rx="3.10" ry="3.10" fill="#0b0b0b"/>
<ellipse cx="465.70" cy="455.20" rx="3.10" ry="3.10" fill="#0b0b0b"/>
</g>
<g filter="url(#bl3)">
<rect x="279.7" y="513.8" width="13.5" height="13.7" fill="#ececec"/>
<rect x="279.7" y="513.8" width="13.5" height="4.3" fill="#e2e2e2"/>
<rect x="279.7" y="522.8" width="13.5" height="4.8" fill="#e2e2e2"/>
<rect x="301.3" y="513.7" width="14.1" height="13.8" fill="#ececec"/>
<rect x="301.3" y="513.7" width="14.1" height="4.9" fill="#d0d0d0"/>
<rect x="301.3" y="522.8" width="14.1" height="4.8" fill="#d0d0d0"/>
<rect x="323.5" y="515.4" width="16.1" height="12.8" fill="#ececec"/>
<rect x="323.5" y="515.4" width="16.1" height="4.3" fill="#d6d6d6"/>
<rect x="323.5" y="523.5" width="16.1" height="4.8" fill="#d6d6d6"/>
</g>
<g filter="url(#bl)">
<rect x="278.7" y="511.40" width="15.5" height="4.80" rx="2.40" fill="#0b0b0b"/>
<ellipse cx="281.80" cy="513.80" rx="2.90" ry="2.90" fill="#0b0b0b"/>
<ellipse cx="291.10" cy="513.80" rx="2.90" ry="2.90" fill="#0b0b0b"/>
<rect x="278.7" y="524.90" width="15.5" height="5.20" rx="2.60" fill="#0b0b0b"/>
<ellipse cx="282.00" cy="527.50" rx="3.10" ry="3.10" fill="#0b0b0b"/>
<ellipse cx="290.90" cy="527.50" rx="3.10" ry="3.10" fill="#0b0b0b"/>
<rect x="300.3" y="510.75" width="16.1" height="5.90" rx="2.95" fill="#0b0b0b"/>
<ellipse cx="303.95" cy="513.70" rx="3.45" ry="3.45" fill="#0b0b0b"/>
<ellipse cx="312.75" cy="513.70" rx="3.45" ry="3.45" fill="#0b0b0b"/>
<rect x="300.3" y="524.90" width="16.1" height="5.20" rx="2.60" fill="#0b0b0b"/>
<ellipse cx="303.60" cy="527.50" rx="3.10" ry="3.10" fill="#0b0b0b"/>
<ellipse cx="313.10" cy="527.50" rx="3.10" ry="3.10" fill="#0b0b0b"/>
<rect x="322.5" y="513.00" width="18.1" height="4.80" rx="2.40" fill="#0b0b0b"/>
<ellipse cx="325.60" cy="515.40" rx="2.90" ry="2.90" fill="#0b0b0b"/>
<ellipse cx="337.50" cy="515.40" rx="2.90" ry="2.90" fill="#0b0b0b"/>
<rect x="322.5" y="525.60" width="18.1" height="5.20" rx="2.60" fill="#0b0b0b"/>
<ellipse cx="325.80" cy="528.20" rx="3.10" ry="3.10" fill="#0b0b0b"/>
<ellipse cx="337.30" cy="528.20" rx="3.10" ry="3.10" fill="#0b0b0b"/>
</g>
<g filter="url(#bl3)">
<rect x="348.1" y="515.1" width="13.1" height="12.9" fill="#ececec"/>
<rect x="348.1" y="515.1" width="13.1" height="5.5" fill="#c8c8c8"/>
<rect x="348.1" y="522.9" width="13.1" height="5.2" fill="#c8c8c8"/>
<rect x="368.3" y="515.3" width="13.7" height="12.7" fill="#ececec"/>
<rect x="368.3" y="515.3" width="13.7" height="5.3" fill="#c4c4c4"/>
<rect x="368.3" y="522.9" width="13.7" height="5.2" fill="#c4c4c4"/>
<rect x="390.8" y="515.4" width="16.2" height="12.9" fill="#ececec"/>
<rect x="390.8" y="515.4" width="16.2" height="5.2" fill="#c8c8c8"/>
<rect x="390.8" y="523.4" width="16.2" height="4.9" fill="#c8c8c8"/>
</g>
<g filter="url(#bl)">
<rect x="347.1" y="511.55" width="15.1" height="7.10" rx="3.55" fill="#0b0b0b"/>
<ellipse cx="351.35" cy="515.10" rx="4.05" ry="4.05" fill="#0b0b0b"/>
<ellipse cx="357.95" cy="515.10" rx="4.05" ry="4.05" fill="#0b0b0b"/>
<rect x="347.1" y="525.00" width="15.1" height="6.00" rx="3.00" fill="#0b0b0b"/>
<ellipse cx="350.80" cy="528.00" rx="3.50" ry="3.50" fill="#0b0b0b"/>
<ellipse cx="358.50" cy="528.00" rx="3.50" ry="3.50" fill="#0b0b0b"/>
<rect x="367.3" y="511.95" width="15.7" height="6.70" rx="3.35" fill="#0b0b0b"/>
<ellipse cx="371.35" cy="515.30" rx="3.85" ry="3.85" fill="#0b0b0b"/>
<ellipse cx="378.95" cy="515.30" rx="3.85" ry="3.85" fill="#0b0b0b"/>
<rect x="367.3" y="525.00" width="15.7" height="6.00" rx="3.00" fill="#0b0b0b"/>
<ellipse cx="371.00" cy="528.00" rx="3.50" ry="3.50" fill="#0b0b0b"/>
<ellipse cx="379.30" cy="528.00" rx="3.50" ry="3.50" fill="#0b0b0b"/>
<rect x="389.8" y="512.15" width="18.2" height="6.50" rx="3.25" fill="#0b0b0b"/>
<ellipse cx="393.75" cy="515.40" rx="3.75" ry="3.75" fill="#0b0b0b"/>
<ellipse cx="404.05" cy="515.40" rx="3.75" ry="3.75" fill="#0b0b0b"/>
<rect x="389.8" y="525.55" width="18.2" height="5.50" rx="2.75" fill="#0b0b0b"/>
<ellipse cx="393.25" cy="528.30" rx="3.25" ry="3.25" fill="#0b0b0b"/>
<ellipse cx="404.55" cy="528.30" rx="3.25" ry="3.25" fill="#0b0b0b"/>
</g>
<g filter="url(#bl3)">
<rect x="413.0" y="515.1" width="12.8" height="12.4" fill="#ececec"/>
<rect x="413.0" y="515.1" width="12.8" height="5.3" fill="#a8a8a8"/>
<rect x="413.0" y="522.7" width="12.8" height="4.8" fill="#a8a8a8"/>
<rect x="431.9" y="515.1" width="14.8" height="12.4" fill="#ececec"/>
<rect x="431.9" y="515.1" width="14.8" height="5.3" fill="#ababab"/>
<rect x="431.9" y="522.7" width="14.8" height="4.8" fill="#ababab"/>
<rect x="454.8" y="514.4" width="15.5" height="12.1" fill="#ececec"/>
<rect x="454.8" y="514.4" width="15.5" height="5.5" fill="#a0a0a0"/>
<rect x="454.8" y="522.0" width="15.5" height="4.5" fill="#a0a0a0"/>
</g>
<g filter="url(#bl)">
<rect x="412.0" y="511.75" width="14.8" height="6.70" rx="3.35" fill="#0b0b0b"/>
<ellipse cx="416.05" cy="515.10" rx="3.85" ry="3.85" fill="#0b0b0b"/>
<ellipse cx="422.75" cy="515.10" rx="3.85" ry="3.85" fill="#0b0b0b"/>
<rect x="412.0" y="524.85" width="14.8" height="5.30" rx="2.65" fill="#0b0b0b"/>
<ellipse cx="415.35" cy="527.50" rx="3.15" ry="3.15" fill="#0b0b0b"/>
<ellipse cx="423.45" cy="527.50" rx="3.15" ry="3.15" fill="#0b0b0b"/>
<rect x="430.9" y="511.75" width="16.8" height="6.70" rx="3.35" fill="#0b0b0b"/>
<ellipse cx="434.95" cy="515.10" rx="3.85" ry="3.85" fill="#0b0b0b"/>
<ellipse cx="443.65" cy="515.10" rx="3.85" ry="3.85" fill="#0b0b0b"/>
<rect x="430.9" y="524.85" width="16.8" height="5.30" rx="2.65" fill="#0b0b0b"/>
<ellipse cx="434.25" cy="527.50" rx="3.15" ry="3.15" fill="#0b0b0b"/>
<ellipse cx="444.35" cy="527.50" rx="3.15" ry="3.15" fill="#0b0b0b"/>
<rect x="453.8" y="510.85" width="17.5" height="7.10" rx="3.55" fill="#0b0b0b"/>
<ellipse cx="458.05" cy="514.40" rx="4.05" ry="4.05" fill="#0b0b0b"/>
<ellipse cx="467.05" cy="514.40" rx="4.05" ry="4.05" fill="#0b0b0b"/>
<rect x="453.8" y="524.15" width="17.5" height="4.70" rx="2.35" fill="#0b0b0b"/>
<ellipse cx="456.85" cy="526.50" rx="2.85" ry="2.85" fill="#0b0b0b"/>
<ellipse cx="468.25" cy="526.50" rx="2.85" ry="2.85" fill="#0b0b0b"/>
</g>
<path d="M469.40,384.60 L480.00,380.40 Q477.88,384.60 480.00,388.80Z" fill="#111"/>
<path d="M469.20,454.40 L479.80,450.20 Q477.68,454.40 479.80,458.60Z" fill="#111"/>
<path d="M473.60,526.20 L484.20,522.00 Q482.08,526.20 484.20,530.40Z" fill="#111"/>
</svg>
</body></html>
